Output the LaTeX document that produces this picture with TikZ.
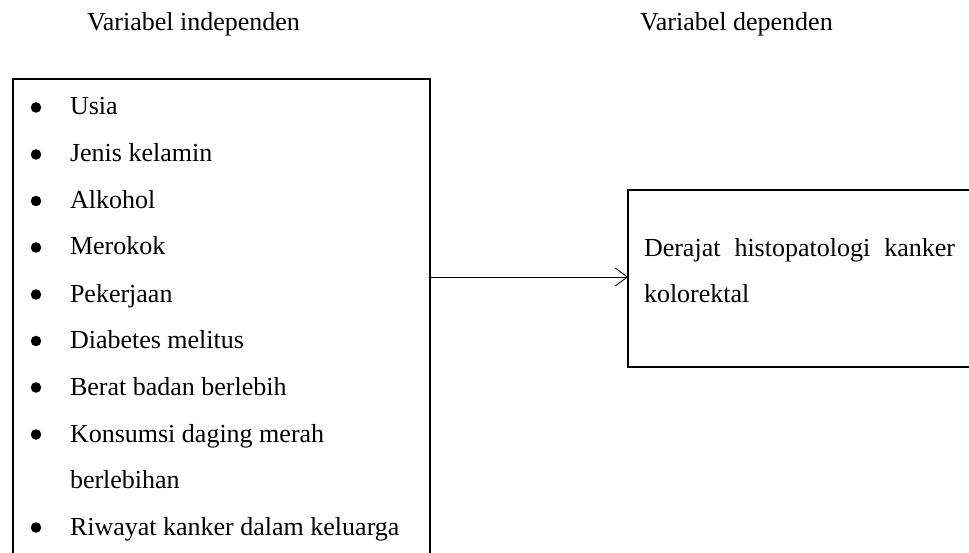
\documentclass[tikz,border=0pt]{standalone}
\usepackage{fontspec}
\setmainfont{Liberation Serif}
\usetikzlibrary{arrows.meta}
\begin{document}
\begin{tikzpicture}[x=1pt,y=-1pt,
  txt/.style={anchor=base west,inner sep=0pt,outer sep=0pt,font=\fontsize{26}{31}\selectfont},
  bul/.style={circle,fill=black,inner sep=0pt,minimum size=10.5pt},
  box/.style={draw=black,line width=2pt,inner sep=0pt,outer sep=0pt},
  conn/.style={line width=0.9pt,-{Straight Barb[length=12pt,width=18pt,line width=0.9pt]}}]
\clip (0,0) rectangle (969,553);
\fill[white] (0,0) rectangle (969,553);
% headings
\node[txt] (h1) at (87,31) {Variabel independen};
\node[txt] (h2) at (640,31) {Variabel dependen};
% boxes
\node[box,minimum width=417pt,minimum height=540pt] (lbox) at (221.5,349) {};
\node[box,minimum width=372pt,minimum height=177pt] (rbox) at (814,278.5) {};
% list
\foreach \y/\t [count=\i] in {115/Usia,162/Jenis kelamin,208.5/Alkohol,255/Merokok,302/Pekerjaan,348.5/Diabetes melitus,395/Berat badan berlebih,442/Konsumsi daging merah,535/Riwayat kanker dalam keluarga}{
  \node[bul] (b\i) at (36,\y-7.5) {};
  \node[txt] (t\i) at (70,\y) {\t};
}
\node[txt] (t8b) at (70,488.5) {berlebihan};
% right text
\node[txt] (r1) at (644,257) {\makebox[311pt][s]{Derajat histopatologi kanker}};
\node[txt] (r2) at (644,303) {kolorektal};
% connector
\coordinate (ay) at (0,277);
\draw[conn] (lbox.east |- ay) -- (rbox.west |- ay);
\end{tikzpicture}
\end{document}
